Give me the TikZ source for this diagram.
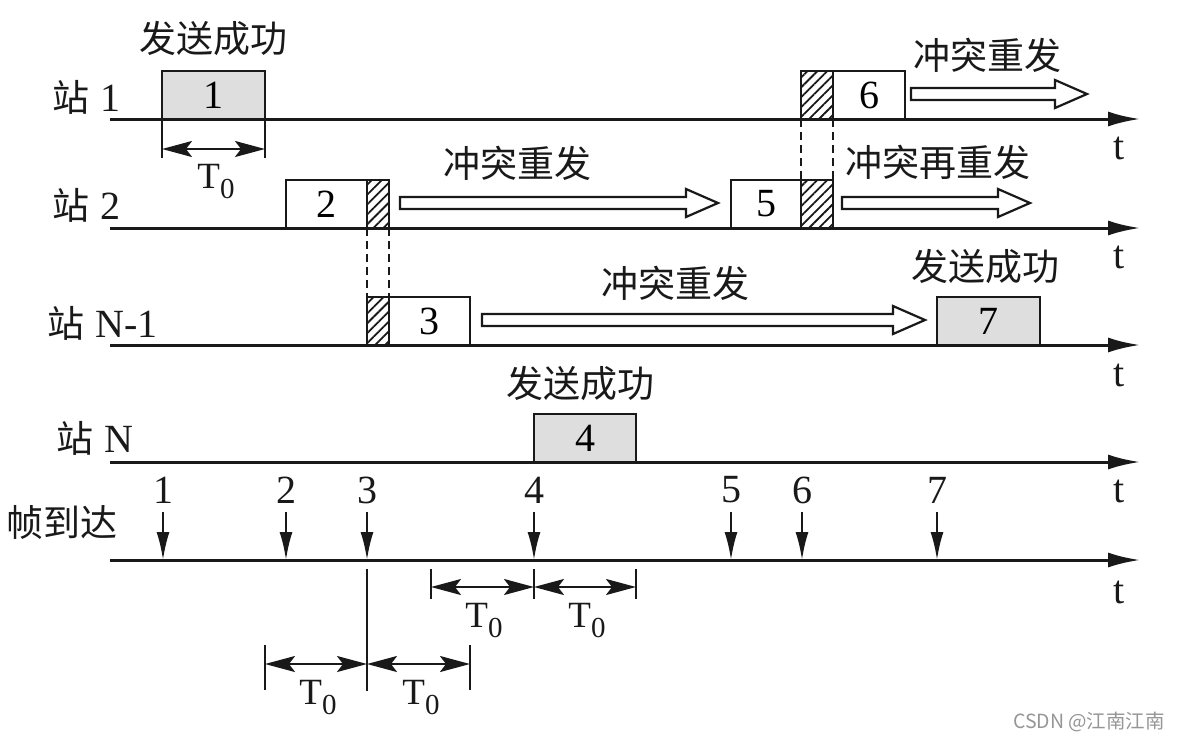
\documentclass[tikz,border=0pt]{standalone}
\usepackage{fontspec}
\setmainfont{Liberation Serif}
\newfontfamily\cjk{Noto Sans CJK SC}
\usetikzlibrary{arrows.meta,patterns.meta}
\definecolor{boxgray}{RGB}{222,222,222}
\definecolor{ink}{RGB}{25,25,25}
\definecolor{wm}{RGB}{150,150,150}
\newcommand\latfont{\fontsize{40}{44}\selectfont}
\newcommand\cjkfont{\cjk\fontsize{37}{40}\selectfont}
\newcommand\tzero{T\raisebox{-10pt}{\fontsize{29}{30}\selectfont 0}}
\newcommand\hollowarr[3]{%
  \draw[hol] (#1,#3-6) -- (#2-32,#3-6) -- (#2-32,#3-14) -- (#2,#3) -- (#2-32,#3+14) -- (#2-32,#3+6) -- (#1,#3+6) -- cycle;}
\tikzset{
  axisline/.style={draw=ink, line width=3pt, -{Latex[length=32pt,width=15pt]}},
  frm/.style={draw=ink, line width=2.5pt, minimum height=48pt, inner sep=0pt, outer sep=0pt, anchor=south west, font=\latfont},
  hatch/.style={frm, pattern={Lines[angle=45,distance=7pt,line width=1.8pt]}, pattern color=ink},
  dsh/.style={draw=ink, line width=2pt, dash pattern=on 8pt off 5pt},
  dim/.style={draw=ink, line width=2.2pt, {Stealth[length=30pt,width=16pt,inset=6pt]}-{Stealth[length=30pt,width=16pt,inset=6pt]}},
  tickln/.style={draw=ink, line width=2pt},
  arrv/.style={draw=ink, line width=2.2pt, -{Latex[length=28pt,width=13pt]}},
  hol/.style={draw=ink, line width=2.2pt, fill=white, line join=miter},
  lat/.style={font=\latfont, inner sep=0pt, text=ink},
  zh/.style={font=\cjkfont, inner sep=0pt, text=ink},
  tz/.style={font=\fontsize{37}{40}\selectfont, inner sep=0pt, text=ink},
}
\begin{document}
\begin{tikzpicture}[x=1pt,y=-1pt]
\useasboundingbox[fill=white] (0,0) rectangle (1180,740);

% axes
\coordinate (a1s) at (110,119);  \coordinate (a1e) at (1140,119);
\coordinate (a2s) at (110,228);  \coordinate (a2e) at (1140,228);
\coordinate (a3s) at (110,345);  \coordinate (a3e) at (1140,345);
\coordinate (a4s) at (110,462);  \coordinate (a4e) at (1140,462);
\coordinate (a5s) at (110,560);  \coordinate (a5e) at (1140,560);
\foreach \i in {1,...,5} {\draw[axisline] (a\i s) -- (a\i e);}

% t labels
\node[lat] (t1) at (1119,148) {t};
\node[lat] (t2) at (1119,257) {t};
\node[lat] (t3) at (1119,375) {t};
\node[lat] (t4) at (1119,491) {t};
\node[lat] (t5) at (1119,592) {t};

% station labels
\node[lat, anchor=east] (s1) at (121,97) {{\cjkfont 站}\hspace{11pt}1};
\node[lat, anchor=east] (s2) at (121,205) {{\cjkfont 站}\hspace{11pt}2};
\node[lat, anchor=east] (s3) at (158,323) {{\cjkfont 站}\hspace{11pt}N-1};
\node[lat, anchor=east] (s4) at (134,438) {{\cjkfont 站}\hspace{11pt}N};
\node[zh] (s5) at (62,522) {帧到达};

% hollow arrows (behind boxes)
\hollowarr{911}{1087}{94}
\hollowarr{400}{718}{203}
\hollowarr{842}{1030}{203}
\hollowarr{482}{925}{320}

% frames
\node[frm, fill=boxgray, minimum width=103pt] (b1) at (162,119) {1};
\node[frm, minimum width=81pt] (b2) at (286,228) {2};
\node[hatch, minimum width=22pt] (h2) at (367,228) {};
\node[hatch, minimum width=22pt] (h3) at (367,345) {};
\node[frm, minimum width=81pt] (b3) at (389,345) {3};
\node[frm, fill=boxgray, minimum width=102pt] (b4) at (534,462) {4};
\node[frm, minimum width=70pt] (b5) at (731,228) {5};
\node[hatch, minimum width=32pt] (h5) at (801,228) {};
\node[hatch, minimum width=32pt] (h6) at (801,119) {};
\node[frm, minimum width=72pt] (b6) at (833,119) {6};
\node[frm, fill=boxgray, minimum width=103pt] (b7) at (937,345) {7};

% dashed collision lines
\draw[dsh] (h2.south west) -- (h3.north west);
\draw[dsh] (h2.south east) -- (h3.north east);
\draw[dsh] (h6.south west) -- (h5.north west);
\draw[dsh] (h6.south east) -- (h5.north east);

% texts above
\node[zh] (ok1) at (213,38) {发送成功};
\node[zh] (ok7) at (985,266) {发送成功};
\node[zh] (ok4) at (580,383) {发送成功};
\node[zh] (re2) at (517,163) {冲突重发};
\node[zh] (re3) at (675,283) {冲突重发};
\node[zh] (re6) at (987,55) {冲突重发};
\node[zh] (re5) at (938,162) {冲突再重发};

% T0 under frame 1
\coordinate (k1) at (162,158); \coordinate (k2) at (265,158);
\draw[tickln] (b1.south west) -- (k1);
\draw[tickln] (b1.south east) -- (k2);
\coordinate (d1a) at (162,149); \coordinate (d1b) at (265,149);
\draw[dim] (d1a) -- (d1b);
\node[tz] (T1) at (216,182) {\tzero};

% frame arrivals
\foreach \n/\x in {1/163,2/286,3/367,4/534,5/731,6/802,7/937} {
  \coordinate (p\n) at (\x,512);
  \coordinate (q\n) at (\x,560);
  \draw[arrv] (p\n) -- (q\n);
  \node[lat] (n\n) at (\x,490) {\n};
}

% T0 around arrival 4
\coordinate (u1t) at (431,569); \coordinate (u1b) at (431,599);
\coordinate (u2t) at (534,569); \coordinate (u2b) at (534,599);
\coordinate (u3t) at (636,569); \coordinate (u3b) at (636,599);
\draw[tickln] (u1t) -- (u1b);
\draw[tickln] (u2t) -- (u2b);
\draw[tickln] (u3t) -- (u3b);
\coordinate (v1) at (431,587); \coordinate (v2) at (534,587); \coordinate (v3) at (636,587);
\draw[dim] (v1) -- (v2);
\draw[dim] (v2) -- (v3);
\node[tz] (T2) at (484,621) {\tzero};
\node[tz] (T3) at (587,621) {\tzero};

% T0 around arrival 3
\coordinate (w2t) at (367,569); \coordinate (w2b) at (367,691);
\coordinate (w1t) at (265,645); \coordinate (w1b) at (265,690);
\coordinate (w3t) at (470,645); \coordinate (w3b) at (470,690);
\draw[tickln] (w2t) -- (w2b);
\draw[tickln] (w1t) -- (w1b);
\draw[tickln] (w3t) -- (w3b);
\coordinate (x1) at (265,664); \coordinate (x2) at (367,664); \coordinate (x3) at (470,664);
\draw[dim] (x1) -- (x2);
\draw[dim] (x2) -- (x3);
\node[tz] (T4) at (318,698) {\tzero};
\node[tz] (T5) at (421,698) {\tzero};

% watermark
\node[font={\cjk\fontsize{19.5}{21}\selectfont}, text=wm, inner sep=0pt] (wmk) at (1089,722) {CSDN @江南江南};
\end{tikzpicture}
\end{document}
